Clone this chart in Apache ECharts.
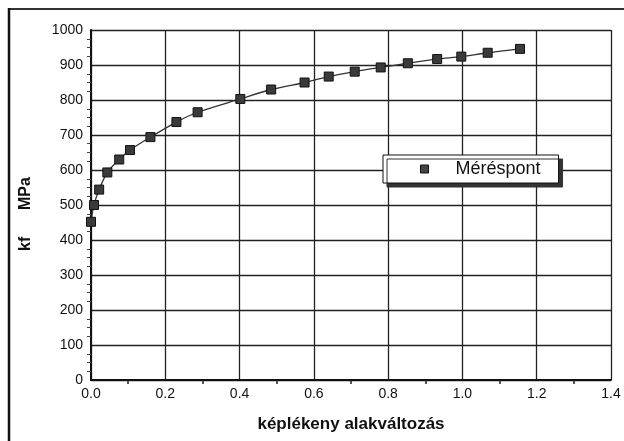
<!DOCTYPE html>
<html>
<head>
<meta charset="utf-8">
<script src="https://cdn.jsdelivr.net/npm/echarts@6/dist/echarts.min.js"></script>
<style>
  html, body { margin: 0; padding: 0; background: #fff; }
  #chart { width: 624px; height: 441px; }
</style>
</head>
<body>
<div id="chart"></div>
<script>
// Plastic strain (képlékeny alakváltozás) vs. flow stress kf [MPa]
const strain = [0, 0.008, 0.022, 0.044, 0.076, 0.105, 0.16, 0.23, 0.287, 0.402,
                0.485, 0.575, 0.64, 0.71, 0.78, 0.853, 0.932, 0.997, 1.068, 1.155];
const kf = [452, 500, 544, 593, 630, 657, 694, 737, 765, 803,
            830, 850, 867, 881, 893, 905, 917, 924, 935, 946];
const seriesName = 'Méréspont';
const xTitle = 'képlékeny alakváltozás';
const yTitle = 'kf      MPa';

const points = strain.map((s, i) => [s, kf[i]]);
const font = 'Liberation Sans, Arial, sans-serif';

const chart = echarts.init(document.getElementById('chart'), null, { renderer: 'canvas' });
chart.setOption({
  backgroundColor: '#ffffff',
  animation: false,
  textStyle: { fontFamily: font },
  grid: { left: 91, right: 13, top: 30, bottom: 61, containLabel: false },
  xAxis: {
    type: 'value',
    min: 0, max: 1.4, interval: 0.2,
    name: xTitle,
    nameLocation: 'middle',
    nameGap: 36,
    nameTextStyle: { fontSize: 17, fontWeight: 'bold', color: '#111', fontFamily: font },
    axisLine: { show: true, onZero: false, lineStyle: { color: '#111', width: 2 } },
    axisTick: { show: false },
    minorTick: { show: true, splitNumber: 2, length: 4, lineStyle: { color: '#222', width: 1.5 } },
    axisLabel: { fontSize: 14, color: '#111', margin: 7, formatter: v => v.toFixed(1) },
    splitLine: { show: true, lineStyle: { color: '#222', width: 1.3 } }
  },
  yAxis: {
    type: 'value',
    min: 0, max: 1000, interval: 100,
    name: yTitle,
    nameLocation: 'middle',
    nameGap: 57,
    nameRotate: 90,
    nameTextStyle: { fontSize: 16, fontWeight: 'bold', color: '#111', fontFamily: font, padding: [0, 18, 0, 0] },
    axisLine: { show: true, lineStyle: { color: '#111', width: 2 } },
    axisTick: { show: false },
    minorTick: { show: true, splitNumber: 4, length: 4, lineStyle: { color: '#444', width: 1 } },
    axisLabel: { fontSize: 14, color: '#111', margin: 8, formatter: v => String(v) },
    splitLine: { show: true, lineStyle: { color: '#222', width: 1.3 } }
  },
  legend: {
    show: true,
    left: 383, top: 155,
    width: 175,
    data: [{ name: seriesName, icon: 'rect' }],
    itemWidth: 8, itemHeight: 8,
    padding: [5, 18, 5, 37],
    backgroundColor: '#ffffff',
    borderColor: '#111',
    borderWidth: 1,
    shadowColor: '#333',
    shadowBlur: 0,
    shadowOffsetX: 4,
    shadowOffsetY: 4,
    itemStyle: { color: '#444', borderColor: '#111', borderWidth: 1 },
    textStyle: { fontSize: 18, color: '#111', fontFamily: font, padding: [2, 0, 0, 22] }
  },
  series: [{
    name: seriesName,
    type: 'line',
    data: points,
    smooth: 0.3,
    symbol: 'rect',
    symbolSize: 9,
    showAllSymbol: true,
    lineStyle: { color: '#333', width: 1.3 },
    itemStyle: { color: '#3a3a3a', borderColor: '#111', borderWidth: 1 }
  }],
  graphic: [
    { type: 'line', shape: { x1: 8, y1: 9, x2: 624, y2: 9 }, style: { stroke: '#333', lineWidth: 2 } },
    { type: 'line', shape: { x1: 9, y1: 8, x2: 9, y2: 441 }, style: { stroke: '#111', lineWidth: 2.5 } }
  ]
});
</script>
</body>
</html>
